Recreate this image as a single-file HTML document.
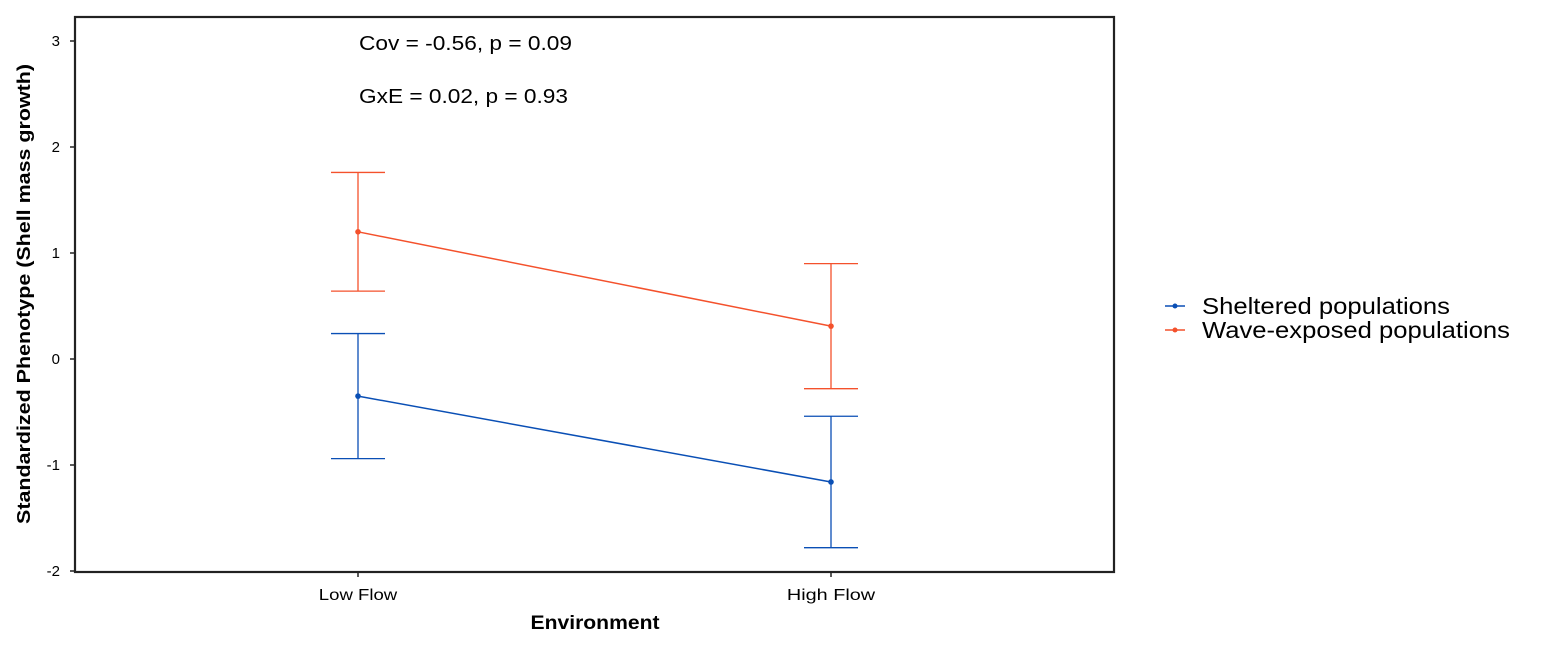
<!DOCTYPE html>
<html><head><meta charset="utf-8"><style>
body{margin:0;background:#fff;}
svg{display:block;font-family:"Liberation Sans",Arial,sans-serif;}
</style></head><body>
<svg id="chart" width="1543" height="649" viewBox="0 0 1543 649" xmlns="http://www.w3.org/2000/svg">
<rect x="0" y="0" width="1543" height="649" fill="#fff"/>
<rect x="75" y="17" width="1039" height="555" fill="none" stroke="#222" stroke-width="2.2"/>
<g id="yaxis"></g>
<g id="xaxis"></g>
<g id="series"></g>
<text x="359" y="50" font-size="20" textLength="213" lengthAdjust="spacingAndGlyphs" fill="#000">Cov = -0.56, p = 0.09</text>
<text x="359" y="103" font-size="20" textLength="209" lengthAdjust="spacingAndGlyphs" fill="#000">GxE = 0.02, p = 0.93</text>
<text transform="translate(30,294) rotate(-90)" text-anchor="middle" font-size="18" font-weight="bold" textLength="460" lengthAdjust="spacingAndGlyphs">Standardized Phenotype (Shell mass growth)</text>
<text x="595" y="629" text-anchor="middle" font-size="19" font-weight="bold" textLength="129" lengthAdjust="spacingAndGlyphs">Environment</text>
<g>
<g>
<line x1="1165" y1="306" x2="1185" y2="306" stroke="#0A4FB5" stroke-width="1.5"/><circle cx="1175" cy="306" r="2.5" fill="#0A4FB5"/>
<text x="1202" y="314" font-size="23" textLength="248" lengthAdjust="spacingAndGlyphs">Sheltered populations</text></g>
<g>
<line x1="1165" y1="330" x2="1185" y2="330" stroke="#F4512C" stroke-width="1.5"/><circle cx="1175" cy="330" r="2.5" fill="#F4512C"/>
<text x="1202" y="338" font-size="23" textLength="308" lengthAdjust="spacingAndGlyphs">Wave-exposed populations</text></g>
</g>
</svg>
<script>
const categories=["Low Flow","High Flow"];
const yTicks=[-2,-1,0,1,2,3];
const shelteredMean=[-0.35,-1.16];
const shelteredUpper=[0.24,-0.54];
const shelteredLower=[-0.94,-1.78];
const exposedMean=[1.20,0.31];
const exposedUpper=[1.76,0.90];
const exposedLower=[0.64,-0.28];

const NS="http://www.w3.org/2000/svg";
const xPos=[358,831];
function x(i){return xPos[0]+(xPos[1]-xPos[0])*i/(categories.length-1);}
function y(v){return 359-106*v;}
function mk(tag,attrs,parent){const e=document.createElementNS(NS,tag);for(const k in attrs)e.setAttribute(k,attrs[k]);parent.appendChild(e);return e;}
const ya=document.getElementById('yaxis'),xa=document.getElementById('xaxis'),sg=document.getElementById('series');
yTicks.forEach(t=>{
  const l=mk('line',{x1:70,x2:75,y1:y(t),y2:y(t),stroke:'#222','stroke-width':1.5},ya);
  
  
  const tx=mk('text',{x:60,y:y(t)+5,'text-anchor':'end','font-size':15},ya);
  tx.textContent=t;
  
  
});
categories.forEach((c,i)=>{
  const l=mk('line',{x1:x(i),x2:x(i),y1:572,y2:577,stroke:'#222','stroke-width':1.5},xa);
  
  
  const tx=mk('text',{x:x(i),y:600,'text-anchor':'middle','font-size':16,textLength:c.length*9.8,lengthAdjust:'spacingAndGlyphs'},xa);
  tx.textContent=c;
  
  
});
function drawSeries(mean,up,lo,color,name){
  const g=mk('g',{},sg);
  
  
  const pts=mean.map((v,i)=>x(i)+','+y(v)).join(' ');
  const pl=mk('polyline',{points:pts,fill:'none',stroke:color,'stroke-width':1.5},g);
  
  
  mean.forEach((v,i)=>{
    const cx=x(i),w=27;
    const eb=mk('path',{d:`M${cx-w},${y(up[i])}H${cx+w}M${cx},${y(up[i])}V${y(lo[i])}M${cx-w},${y(lo[i])}H${cx+w}`,fill:'none',stroke:color,'stroke-width':1.3},g);
    
    
    const p=mk('circle',{cx:cx,cy:y(v),r:2.8,fill:color},g);
    
    
  });
}
drawSeries(exposedMean,exposedUpper,exposedLower,'#F4512C','wave-exposed');
drawSeries(shelteredMean,shelteredUpper,shelteredLower,'#0A4FB5','sheltered');
</script>
</body></html>
